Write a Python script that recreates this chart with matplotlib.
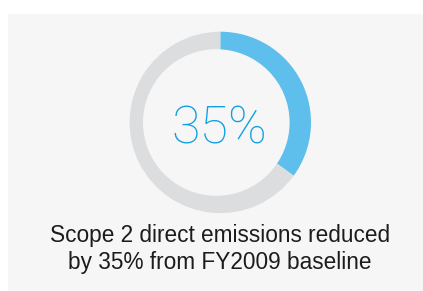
import matplotlib.pyplot as plt
from matplotlib.patches import Circle, FancyBboxPatch

FILENAME = 'out.png'

SEGMENTS = ['Reduced', 'Remaining']
VALUES = [35, 65]
CENTER_LABEL = '35%'
CAPTION = ['Scope 2 direct emissions reduced', 'by 35% from FY2009 baseline']

BLUE = '#5ebfec'
GRAY = '#dcddde'
PANEL = '#f6f6f6'
TEXT_BLUE = '#0f9fe0'
TEXT_DARK = '#1c1c1c'

W, H = 423, 291


def main():
    fig = plt.figure(figsize=(W / 100, H / 100), dpi=100)
    ax = fig.add_axes([0, 0, 1, 1])
    ax.axis('off')

    # panel behind everything
    ax.add_patch(FancyBboxPatch((8, 0), W - 8 + 5, H - 14, boxstyle='square,pad=0',
                                facecolor=PANEL, edgecolor='none', zorder=0))

    ax.pie(VALUES, colors=[BLUE, GRAY], startangle=90, counterclock=False,
           center=(220.3, H - 122.4), radius=90.7,
           wedgeprops=dict(linewidth=0))
    # the hole sits a bit left of centre in the original
    ax.add_patch(Circle((216.3, H - 122.5), 73.3, facecolor=PANEL,
                        edgecolor='none', zorder=5))

    ax.text(219, H - 143, CENTER_LABEL, ha='center', va='baseline',
            fontsize=37.5, color=TEXT_BLUE, family='Roboto', fontweight='light',
            zorder=6)
    ax.text(220, H - 241.7, CAPTION[0], ha='center', va='baseline',
            fontsize=16.3, color=TEXT_DARK, family='Liberation Sans')
    ax.text(220, H - 269.3, CAPTION[1], ha='center', va='baseline',
            fontsize=16.3, color=TEXT_DARK, family='Liberation Sans')

    ax.set_xlim(0, W)
    ax.set_ylim(0, H)
    ax.set_aspect('auto')

    fig.savefig(FILENAME, dpi=100, facecolor='white')


if __name__ == '__main__':
    main()
